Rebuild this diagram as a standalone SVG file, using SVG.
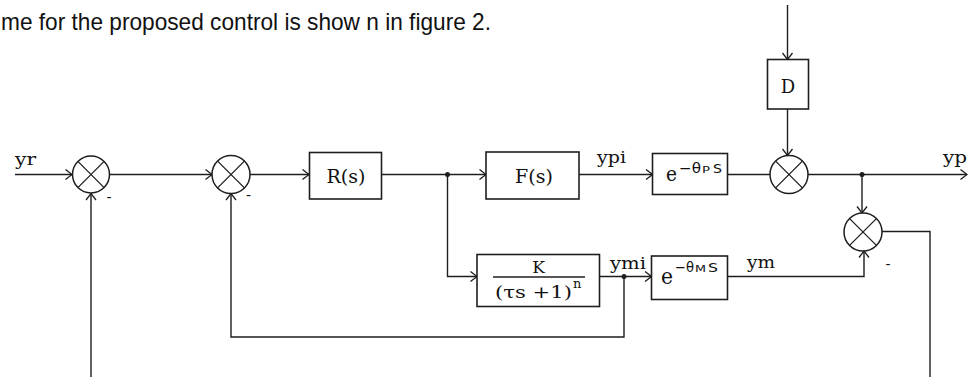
<svg xmlns="http://www.w3.org/2000/svg" width="971" height="377" viewBox="0 0 971 377">
<style>
.ln{fill:none;stroke:#1e1e1e;stroke-width:1.4}
.bx{fill:#fff;stroke:#1e1e1e;stroke-width:1.6}
.sum{fill:#fff;stroke:#1e1e1e;stroke-width:1.5}
.x{stroke:#1e1e1e;stroke-width:1.3}
.lbl{font-family:"DejaVu Serif","Liberation Serif",serif;fill:#111}
.sans{font-family:"DejaVu Sans","Liberation Sans",sans-serif;fill:#111}
.top{font-family:"Liberation Sans",Arial,sans-serif;fill:#111}
</style>
<defs>
<marker id="ar" viewBox="0 0 8 12" refX="7.5" refY="6" markerWidth="8" markerHeight="12" markerUnits="userSpaceOnUse" orient="auto">
<path d="M1,1 L7.5,6 L1,11" fill="none" stroke="#1e1e1e" stroke-width="1.3"/>
</marker>
</defs>
<rect width="971" height="377" fill="#fff"/>
<text class="top" x="1" y="30" font-size="24.5" textLength="490" lengthAdjust="spacingAndGlyphs">me for the proposed control is show n in figure 2.</text>

<g id="connectors">
<path class="ln" d="M15,174.5 H72" marker-end="url(#ar)"/>
<path class="ln" d="M110,174.5 H212" marker-end="url(#ar)"/>
<path class="ln" d="M250,174.5 H309" marker-end="url(#ar)"/>
<path class="ln" d="M381.5,174.5 H486" marker-end="url(#ar)"/>
<path class="ln" d="M579,174.5 H652.5" marker-end="url(#ar)"/>
<path class="ln" d="M727.5,174.5 H770"/>
<path class="ln" d="M787.5,5 V59.5" marker-end="url(#ar)"/>
<path class="ln" d="M787.5,109 V155.5" marker-end="url(#ar)"/>
<path class="ln" d="M808,174.5 H967" marker-end="url(#ar)"/>
<path class="ln" d="M862,174.5 V213" marker-end="url(#ar)"/>
<path class="ln" d="M882,231.5 H930 V377"/>
<path class="ln" d="M91,377 V193.5" marker-end="url(#ar)"/>
<path class="ln" d="M447.5,174.5 V276.5 H477" marker-end="url(#ar)"/>
<path class="ln" d="M599.5,276.5 H651.5" marker-end="url(#ar)"/>
<path class="ln" d="M624,276.5 V337 H231 V193.5" marker-end="url(#ar)"/>
<path class="ln" d="M727.5,276.5 H864 V251" marker-end="url(#ar)"/>
<circle cx="447.5" cy="174.5" r="2.5" fill="#1e1e1e"/>
<circle cx="862" cy="174.5" r="2.5" fill="#1e1e1e"/>
<circle cx="624" cy="276.5" r="2.5" fill="#1e1e1e"/>
</g>

<g id="labels">
<text class="lbl" x="15" y="165" font-size="16" textLength="21" lengthAdjust="spacingAndGlyphs">yr</text>
<text class="lbl" x="597" y="163" font-size="16" textLength="29" lengthAdjust="spacingAndGlyphs">ypi</text>
<text class="lbl" x="943" y="163" font-size="16" textLength="24" lengthAdjust="spacingAndGlyphs">yp</text>
<text class="lbl" x="610" y="269" font-size="16" textLength="36" lengthAdjust="spacingAndGlyphs">ymi</text>
<text class="lbl" x="747" y="268" font-size="16" textLength="28" lengthAdjust="spacingAndGlyphs">ym</text>
<text class="top" x="106.5" y="202" font-size="15">-</text>
<text class="top" x="246" y="199.5" font-size="15">-</text>
<text class="top" x="885.5" y="268.5" font-size="15">-</text>
</g>

<g id="sum1">
<circle class="sum" cx="91" cy="174.5" r="18.5"/>
<path class="x" d="M77.9,161.4 L104.1,187.6 M104.1,161.4 L77.9,187.6"/>
</g>
<g id="sum2">
<circle class="sum" cx="231" cy="174.5" r="19"/>
<path class="x" d="M217.6,161.1 L244.4,187.9 M244.4,161.1 L217.6,187.9"/>
</g>
<g id="sum3">
<circle class="sum" cx="789" cy="174.5" r="19"/>
<path class="x" d="M775.6,161.1 L802.4,187.9 M802.4,161.1 L775.6,187.9"/>
</g>
<g id="sum4">
<circle class="sum" cx="863" cy="232" r="19"/>
<path class="x" d="M849.6,218.6 L876.4,245.4 M876.4,218.6 L849.6,245.4"/>
</g>

<g id="R">
<rect class="bx" x="309.5" y="152.5" width="72" height="46.5"/>
<text class="lbl" x="346" y="183" font-size="19" text-anchor="middle">R(s)</text>
</g>
<g id="F">
<rect class="bx" x="486" y="152" width="93" height="47"/>
<text class="lbl" x="534" y="183" font-size="19" text-anchor="middle">F(s)</text>
</g>
<g id="D">
<rect class="bx" x="767.5" y="59.5" width="41" height="49.5"/>
<text class="lbl" x="788" y="93" font-size="18" text-anchor="middle">D</text>
</g>
<g id="delayP">
<rect class="bx" x="652.5" y="153.5" width="75" height="41"/>
<text class="lbl" x="666" y="181" font-size="21" textLength="11" lengthAdjust="spacingAndGlyphs">e</text>
<text class="sans" x="679" y="173" font-size="14" textLength="22" lengthAdjust="spacingAndGlyphs">−θ</text>
<text class="sans" x="702" y="173" font-size="8" textLength="8" lengthAdjust="spacingAndGlyphs">P</text>
<text class="sans" x="713" y="173" font-size="12" textLength="9" lengthAdjust="spacingAndGlyphs">S</text>
</g>
<g id="delayM">
<rect class="bx" x="651.5" y="256" width="76" height="43.5"/>
<text class="lbl" x="661" y="284" font-size="22" textLength="12" lengthAdjust="spacingAndGlyphs">e</text>
<text class="sans" x="675" y="272" font-size="14" textLength="19" lengthAdjust="spacingAndGlyphs">−θ</text>
<text class="sans" x="695" y="272" font-size="8" textLength="11" lengthAdjust="spacingAndGlyphs">M</text>
<text class="sans" x="708" y="272" font-size="12" textLength="10" lengthAdjust="spacingAndGlyphs">S</text>
</g>
<g id="model">
<rect class="bx" x="477" y="254.5" width="122.5" height="52"/>
<text class="lbl" x="538.5" y="273" font-size="17" text-anchor="middle">K</text>
<path class="ln" d="M493,277 H585"/>
<text class="lbl" x="495" y="298" font-size="17" textLength="77" lengthAdjust="spacingAndGlyphs">(τs +1)</text>
<text class="lbl" x="573" y="288" font-size="13">n</text>
</g>
</svg>
